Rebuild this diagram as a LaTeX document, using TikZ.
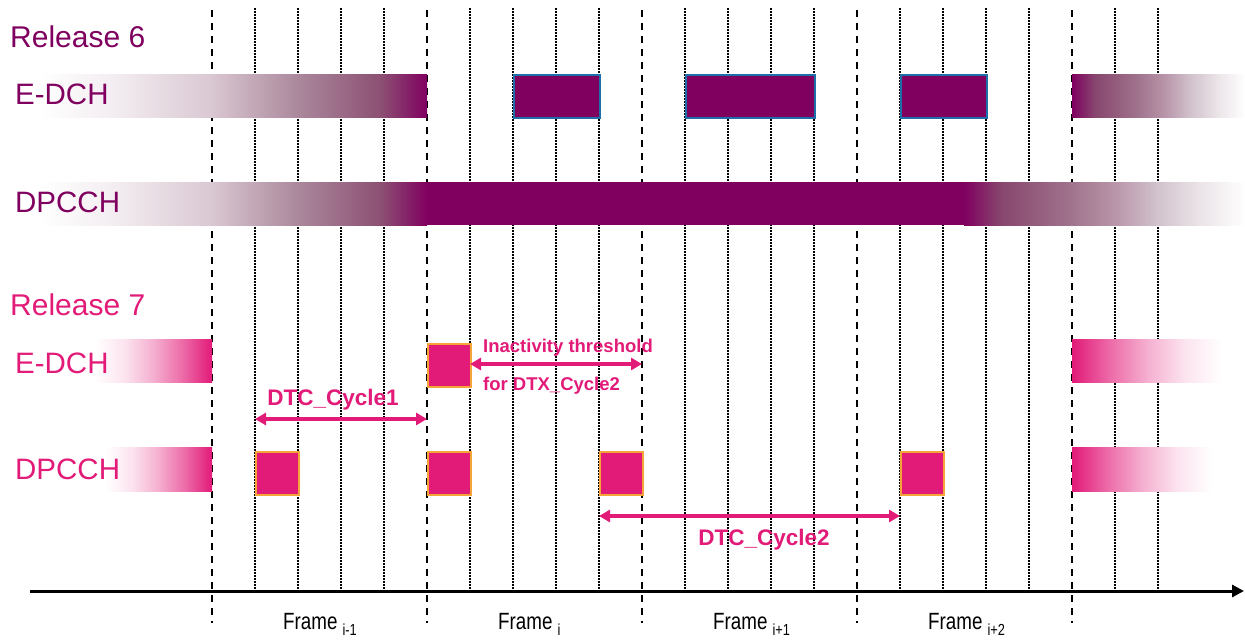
\documentclass[tikz,border=0pt]{standalone}
\usepackage{fontspec}
\setmainfont{Liberation Sans}
\newfontfamily\framefont{Liberation Sans}[FakeStretch=0.8]
\usetikzlibrary{arrows.meta}

\definecolor{relsix}{RGB}{128,0,96}
\definecolor{relseven}{RGB}{226,26,120}
\definecolor{boxblue}{RGB}{30,110,170}
\definecolor{boxorange}{RGB}{245,165,55}
% tints of the release 6 colour along its fading bars
\definecolor{sixA}{RGB}{242,236,240}
\definecolor{sixB}{RGB}{218,200,210}
\definecolor{sixC}{RGB}{170,135,155}
\definecolor{sixD}{RGB}{140,80,115}
\definecolor{sixE}{RGB}{235,228,232}
\definecolor{sixF}{RGB}{210,195,205}
\definecolor{sixG}{RGB}{185,150,170}
\definecolor{sixH}{RGB}{160,115,140}
\definecolor{sixI}{RGB}{135,70,110}

% fading bars: the central 25bp..75bp band spans the filled path
\pgfdeclarehorizontalshading{rsixin}{100bp}{color(0bp)=(white); color(25bp)=(white);
  color(35bp)=(sixA); color(47bp)=(sixB); color(58.5bp)=(sixC); color(69bp)=(sixD);
  color(75bp)=(relsix); color(100bp)=(relsix)}
\pgfdeclarehorizontalshading{rsixout}{100bp}{color(0bp)=(relsix); color(25bp)=(relsix);
  color(31.5bp)=(sixI); color(44bp)=(sixH); color(52bp)=(sixG); color(59.5bp)=(sixF);
  color(67bp)=(sixE); color(75bp)=(white); color(100bp)=(white)}
\pgfdeclarehorizontalshading{rsevenin}{100bp}{color(0bp)=(white); color(25bp)=(white);
  color(37.5bp)=(relseven!12); color(50bp)=(relseven!35); color(62.5bp)=(relseven!65);
  color(75bp)=(relseven); color(100bp)=(relseven)}
\pgfdeclarehorizontalshading{rsevenout}{100bp}{color(0bp)=(relseven); color(25bp)=(relseven);
  color(37.5bp)=(relseven!65); color(50bp)=(relseven!35); color(62.5bp)=(relseven!12);
  color(75bp)=(white); color(100bp)=(white)}

\begin{document}
\begin{tikzpicture}[x=1pt,y=-1pt,
  framesep/.style={line width=2.2pt, dash pattern=on 7pt off 6pt},
  slotsep/.style={line width=1.5pt, dash pattern=on 1.5pt off 1.5pt},
  sixbox/.style={draw=boxblue, line width=1.5pt, fill=relsix, minimum height=43pt,
    inner sep=0pt, anchor=north west},
  sevenbox/.style={draw=boxorange, line width=1.5pt, fill=relseven, minimum height=43pt,
    minimum width=43pt, inner sep=0pt, anchor=north west},
  chlabel/.style={anchor=base west, inner sep=0pt, font=\fontsize{29.5}{34}\selectfont},
  dimarrow/.style={draw=relseven, line width=3.5pt,
    {Triangle[length=11pt,width=12pt]}-{Triangle[length=11pt,width=12pt]}},
  dimlabel/.style={inner sep=0pt, text=relseven, font=\bfseries\fontsize{22.5}{26}\selectfont},
  framelabel/.style={anchor=base west, inner sep=0pt, font=\framefont\fontsize{23.5}{28}\selectfont},
]
\useasboundingbox (0,0) rectangle (1245,640);

% slot grid: dotted every 43pt, dashed at each frame boundary
\foreach \f in {212,427,642,857,1072}{
  \draw[framesep] (\f,10) -- (\f,623);
}
\foreach \f in {212,427,642,857}{
  \foreach \k in {1,2,3,4}{
    \draw[slotsep] ({\f+43*\k},8) -- ({\f+43*\k},591);
  }
}
\foreach \x in {1115,1158}{
  \draw[slotsep] (\x,8) -- (\x,591);
}

% Release 6 channels
\shade[shading=rsixin] (40,74) rectangle (427,117);
\shade[shading=rsixout] (1072,74) rectangle (1245,117);
\node[sixbox, minimum width=86pt] (s6e1) at (513,74) {};
\node[sixbox, minimum width=129pt] (s6e2) at (685,74) {};
\node[sixbox, minimum width=86pt] (s6e3) at (900,74) {};

\shade[shading=rsixin] (40,182) rectangle (427,225);
\fill[relsix] (427,182) rectangle (964,225);
\shade[shading=rsixout] (964,182) rectangle (1245,225);

% Release 7 channels
\shade[shading=rsevenin] (95,339) rectangle (212,382);
\shade[shading=rsevenout] (1072,339) rectangle (1222,382);
\node[sevenbox] (s7e1) at (427,343) {};

\shade[shading=rsevenin] (105,447) rectangle (212,491);
\shade[shading=rsevenout] (1072,447) rectangle (1212,491);
\node[sevenbox] (s7d1) at (255,451) {};
\node[sevenbox] (s7d2) at (427,451) {};
\node[sevenbox] (s7d3) at (599,451) {};
\node[sevenbox] (s7d4) at (900,451) {};

% row labels
\node[chlabel, text=relsix, font=\fontsize{30}{36}\selectfont] (rel6) at (10,47) {Release 6};
\node[chlabel, text=relsix] (edch6) at (15,104) {E-DCH};
\node[chlabel, text=relsix] (dpcch6) at (15,212) {DPCCH};
\node[chlabel, text=relseven, font=\fontsize{30}{36}\selectfont] (rel7) at (10,315) {Release 7};
\node[chlabel, text=relseven] (edch7) at (15,373) {E-DCH};
\node[chlabel, text=relseven] (dpcch7) at (15,479) {DPCCH};

% DTX cycle dimensions
\coordinate (c1a) at (255,419);
\coordinate (c1b) at (427,419);
\draw[dimarrow] (c1a) -- (c1b);
\node[dimlabel, anchor=base] (c1lab) at (333,405) {DTC\_Cycle1};

\coordinate (ita) at (470,364);
\coordinate (itb) at (642,364);
\draw[dimarrow] (ita) -- (itb);
\node[dimlabel, anchor=base west, font=\bfseries\fontsize{18.5}{22}\selectfont] (itlab1) at (483,352) {Inactivity threshold};
\node[dimlabel, anchor=base west, font=\bfseries\fontsize{18.5}{22}\selectfont] (itlab2) at (483,390) {for DTX\_Cycle2};

\coordinate (c2a) at (599,516);
\coordinate (c2b) at (900,516);
\draw[dimarrow] (c2a) -- (c2b);
\node[dimlabel, anchor=base] (c2lab) at (764,545) {DTC\_Cycle2};

% time axis
\coordinate (axl) at (30,591);
\coordinate (axr) at (1244,591);
\draw[line width=3pt, -{Triangle[length=12pt,width=12pt]}] (axl) -- (axr);

% frame names
\node[framelabel] (fm1) at (283,629) {Frame\hspace{5pt}\raisebox{-6pt}{\fontsize{16}{19}\selectfont i-1}};
\node[framelabel] (f0) at (498,629) {Frame\hspace{5pt}\raisebox{-6pt}{\fontsize{16}{19}\selectfont i}};
\node[framelabel] (fp1) at (713,629) {Frame\hspace{5pt}\raisebox{-6pt}{\fontsize{16}{19}\selectfont i+1}};
\node[framelabel] (fp2) at (928,629) {Frame\hspace{5pt}\raisebox{-6pt}{\fontsize{16}{19}\selectfont i+2}};
\end{tikzpicture}
\end{document}
